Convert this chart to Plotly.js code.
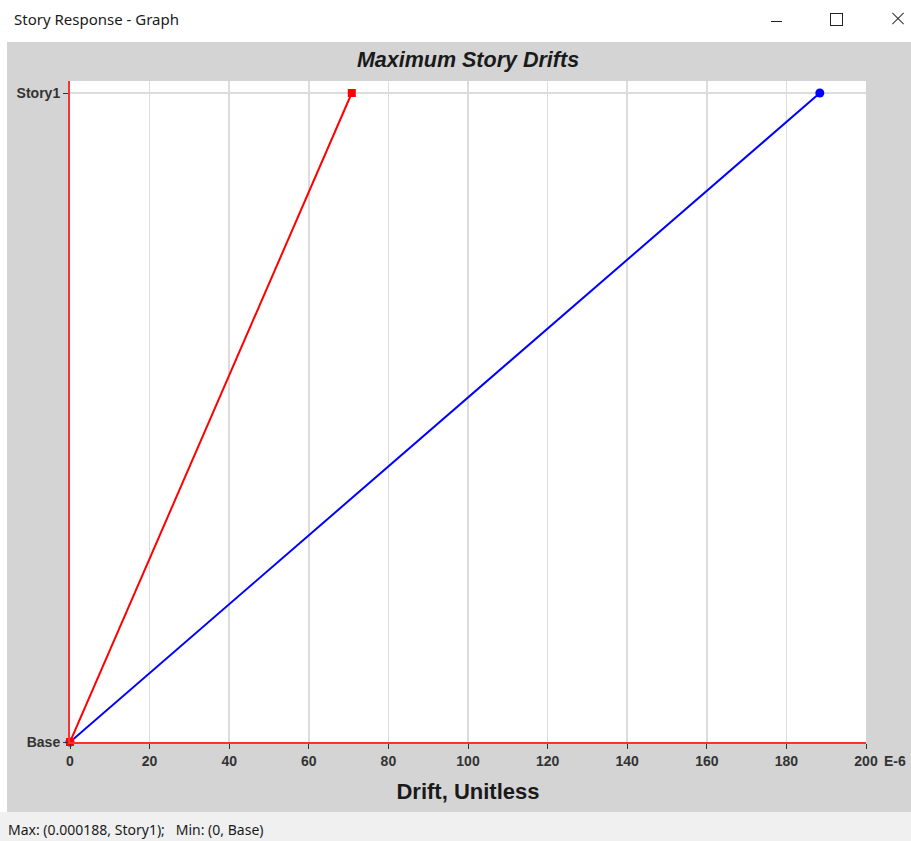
<!DOCTYPE html>
<html>
<head>
<meta charset="utf-8">
<script src="https://cdn.plot.ly/plotly-3.0.1.min.js"></script>
<style>
  html, body { margin: 0; padding: 0; background: #ffffff; width: 911px; height: 841px; overflow: hidden; position: relative; font-family: "Noto Sans", "Open Sans", sans-serif; }
  #titlebar { position: absolute; left: 14px; top: 9px; font-size: 15px; color: #1a1a1a; font-family: "Noto Sans", sans-serif; }
  #minbtn { position: absolute; left: 771px; top: 21px; width: 11px; height: 1px; background: #222; }
  #maxbtn { position: absolute; left: 830px; top: 13px; width: 11px; height: 11px; border: 1px solid #222; }
  .xline { position: absolute; left: 890px; top: 18px; width: 16px; height: 1px; background: #333; }
  #x1 { transform: rotate(45deg); }
  #x2 { transform: rotate(-45deg); }
  #chart { position: absolute; left: 7px; top: 42px; width: 904px; height: 770px; }
  #status { position: absolute; left: 0px; top: 812px; width: 911px; height: 29px; background: #f0f0f0; }
  #statustext { position: absolute; left: 8px; top: 820px; font-size: 14px; color: #1a1a1a; font-family: "Noto Sans", sans-serif; }
</style>
</head>
<body>
<div id="titlebar">Story Response - Graph</div>
<div id="minbtn"></div>
<div id="maxbtn"></div>
<div class="xline" id="x1"></div>
<div class="xline" id="x2"></div>
<div id="chart"></div>
<div id="status"></div>
<div id="statustext">Max: (0.000188, Story1);&nbsp;&nbsp; Min: (0, Base)</div>
<script>
// Data (drift in units of E-6)
const stories = ['Base', 'Story1'];
const driftRed = [0, 70.8];
const driftBlue = [0, 188.4];
const xTickVals = [0, 20, 40, 60, 80, 100, 120, 140, 160, 180, 200];
const xTickText = ['0', '20', '40', '60', '80', '100', '120', '140', '160', '180', '200'];

const traces = [
  {
    x: driftBlue, y: stories, type: 'scatter', mode: 'lines+markers',
    line: { color: '#0000ff', width: 2 },
    marker: { color: '#0000ff', symbol: 'circle', size: 9 },
    hoverinfo: 'skip', cliponaxis: false
  },
  {
    x: driftRed, y: stories, type: 'scatter', mode: 'lines+markers',
    line: { color: '#ff0000', width: 2 },
    marker: { color: '#ff0000', symbol: 'square', size: 8 },
    hoverinfo: 'skip', cliponaxis: false
  }
];

const tickFont = { family: 'Liberation Sans, Arial, sans-serif', size: 14, color: '#333333', weight: 'bold' };

const layout = {
  width: 904, height: 770,
  paper_bgcolor: '#d4d4d4',
  plot_bgcolor: '#ffffff',
  showlegend: false,
  margin: { l: 63, r: 45, t: 39, b: 70, pad: 0 },
  title: {
    text: '<b><i>Maximum Story Drifts</i></b>',
    font: { family: 'Liberation Sans, Arial, sans-serif', size: 21.5, color: '#1a1a1a' },
    x: 0.5, xref: 'paper', xanchor: 'center',
    y: 1 - 17 / 770, yref: 'container', yanchor: 'middle'
  },
  xaxis: {
    range: [0, 200], tickvals: xTickVals, ticktext: xTickText,
    showgrid: true, gridcolor: '#dcdcdc', gridwidth: 1.5,
    zeroline: false,
    showline: true, linecolor: '#ff3030', linewidth: 2,
    ticks: 'outside', ticklen: 5, tickcolor: '#333333', tickwidth: 1,
    tickfont: tickFont,
    title: {
      text: '<b>Drift, Unitless</b>',
      font: { family: 'Liberation Sans, Arial, sans-serif', size: 22, color: '#1a1a1a' },
      standoff: 16
    },
    automargin: false, fixedrange: true
  },
  yaxis: {
    type: 'category', categoryorder: 'array', categoryarray: stories,
    range: [0, 1.0185],
    showgrid: true, gridcolor: '#dcdcdc', gridwidth: 1.5,
    zeroline: false,
    showline: true, linecolor: '#ff3030', linewidth: 2,
    ticks: 'outside', ticklen: 5, tickcolor: '#333333', tickwidth: 1,
    tickfont: tickFont,
    automargin: false, fixedrange: true
  },
  annotations: [
    {
      text: 'E-6', xref: 'paper', yref: 'paper', x: 1, y: 0,
      xanchor: 'left', yanchor: 'top', xshift: 16, yshift: -9,
      showarrow: false,
      font: tickFont
    }
  ]
};

Plotly.newPlot('chart', traces, layout, { displayModeBar: false, staticPlot: true });
</script>
</body>
</html>
